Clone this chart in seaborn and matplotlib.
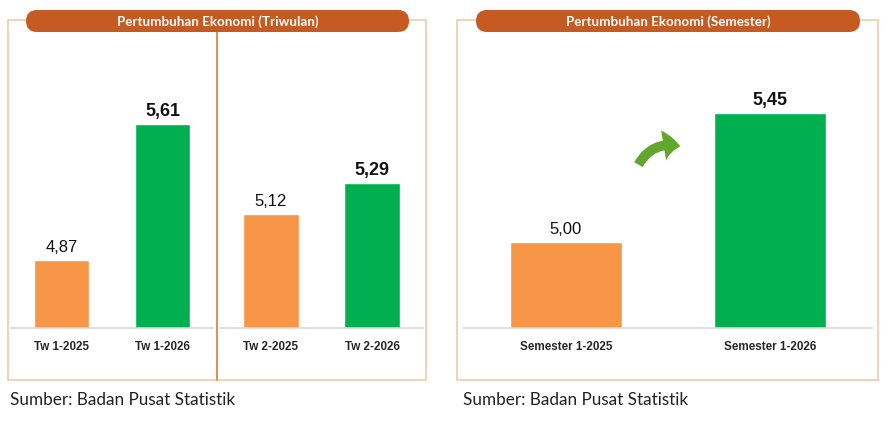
import matplotlib
matplotlib.use("Agg")
import matplotlib.pyplot as plt
import seaborn as sns
import pandas as pd
from matplotlib.patches import FancyBboxPatch, Rectangle, FancyArrowPatch

# data
tw_awal_kat = ["Tw 1-2025", "Tw 1-2026"]
tw_awal_nilai = [4.87, 5.61]
tw_dua_kat = ["Tw 2-2025", "Tw 2-2026"]
tw_dua_nilai = [5.12, 5.29]
sem_kat = ["Semester 1-2025", "Semester 1-2026"]
sem_nilai = [5.00, 5.45]
judul_kiri = "Pertumbuhan Ekonomi (Triwulan)"
judul_kanan = "Pertumbuhan Ekonomi (Semester)"
sumber = "Sumber: Badan Pusat Statistik"

ORANYE = "#F79646"
HIJAU = "#00B050"
PIL = "#C55A22"
GARIS = "#F0CBA8"
PEMISAH = "#D2975F"
NARROW = ["Liberation Sans Narrow", "Liberation Sans", "DejaVu Sans"]

sns.set_style("white")

W, H = 891, 429
fig = plt.figure(figsize=(W / 100, H / 100), dpi=100)

# latar: sumbu penuh dalam satuan piksel
bg = fig.add_axes([0, 0, 1, 1], zorder=0)
bg.set_xlim(0, W)
bg.set_ylim(H, 0)
bg.axis("off")

def kotak(x0, x1, px0, px1, judul):
    bg.add_patch(Rectangle((x0, 20), x1 - x0, 360, fill=False, ec=GARIS, lw=1.2))
    bg.add_patch(FancyBboxPatch((px0, 10), px1 - px0, 22,
                                boxstyle="round,pad=0,rounding_size=11",
                                fc=PIL, ec="none", zorder=3))
    bg.text((px0 + px1) / 2, 21.5, judul, color="white", fontsize=9.6,
            fontweight="bold", family=["Lato", "DejaVu Sans"],
            ha="center", va="center", zorder=4)

kotak(8, 426, 26, 409, judul_kiri)
kotak(457, 878, 476, 860, judul_kanan)
bg.plot([217, 217], [32, 380], color=PEMISAH, lw=1.5)

bg.text(10, 400, sumber, fontsize=12.3, family=["Lato", "DejaVu Sans"],
        ha="left", va="center", color="#222222")
bg.text(463, 400, sumber, fontsize=12.3, family=["Lato", "DejaVu Sans"],
        ha="left", va="center", color="#222222")

bg.add_patch(FancyArrowPatch((637, 167), (683, 147),
                             connectionstyle="arc3,rad=-0.4",
                             arrowstyle="simple,head_length=12,head_width=22,tail_width=7",
                             color="#62A62C", lw=0))


def px_axes(x0, x1, y0=40, y1=328):
    return fig.add_axes([x0 / W, 1 - y1 / H, (x1 - x0) / W, (y1 - y0) / H], zorder=1)


def gambar(ax, kat, nilai, ybawah, skala):
    df = pd.DataFrame({"kat": kat, "nilai": nilai})
    sns.barplot(data=df, x="kat", y="nilai", hue="kat",
                palette=[ORANYE, HIJAU], width=0.55, legend=False, ax=ax,
                saturation=1)
    ax.set_ylim(ybawah, ybawah + 288 / skala)
    ax.patch.set_alpha(0)
    for s in ["top", "left", "right"]:
        ax.spines[s].set_visible(False)
    ax.spines["bottom"].set_color("#D9D9D9")
    ax.spines["bottom"].set_linewidth(1.2)
    ax.set_yticks([])
    ax.set_xlabel("")
    ax.set_ylabel("")
    ax.tick_params(axis="x", length=0, pad=9)
    for lab in ax.get_xticklabels():
        lab.set_fontsize(8.4)
        lab.set_fontweight("bold")
        lab.set_family(NARROW)
    for i, p in enumerate(ax.patches):
        tebal = i == 1
        ax.annotate(f"{nilai[i]:.2f}".replace(".", ","),
                    (p.get_x() + p.get_width() / 2, p.get_height()),
                    xytext=(0, 5.5), textcoords="offset points",
                    ha="center", va="baseline",
                    fontsize=13 if tebal else 12,
                    fontweight="bold" if tebal else "normal",
                    family=NARROW, color="#111111")


ax1 = px_axes(11, 213)
gambar(ax1, tw_awal_kat, tw_awal_nilai, 4.5, 183.8)
ax1.set_xticks([0.5], minor=True)
ax1.tick_params(axis="x", which="minor", length=4, color="#D9D9D9")

ax2 = px_axes(220, 423)
gambar(ax2, tw_dua_kat, tw_dua_nilai, 4.5, 183.8)

ax3 = px_axes(464, 872)
gambar(ax3, sem_kat, sem_nilai, 4.70, 286.7)

fig.savefig("out.png", dpi=100)
